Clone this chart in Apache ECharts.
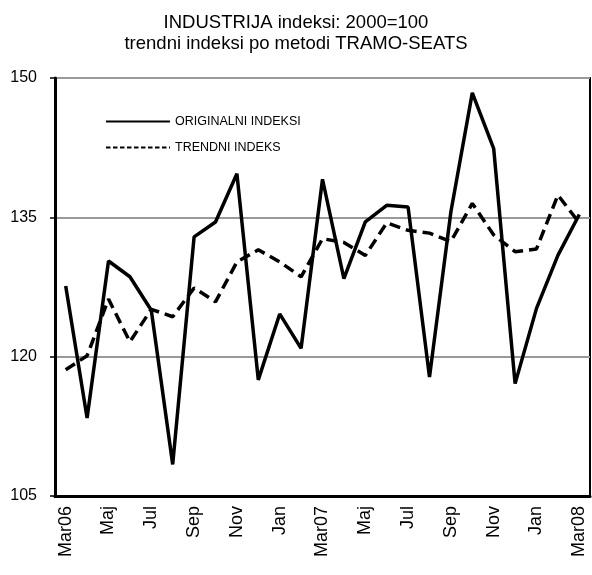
<!DOCTYPE html>
<html>
<head>
<meta charset="utf-8">
<script src="https://cdn.jsdelivr.net/npm/echarts@6/dist/echarts.min.js"></script>
<style>
  html, body { margin: 0; padding: 0; background: #fff; }
  #chart { width: 592px; height: 575px; }
</style>
</head>
<body>
<div id="chart"></div>
<script>
// monthly categories Mar06 .. Mar08
const months = ['Mar06', 'Apr', 'Maj', 'Jun', 'Jul', 'Avg', 'Sep', 'Okt', 'Nov', 'Dec', 'Jan', 'Feb',
  'Mar07', 'Apr', 'Maj', 'Jun', 'Jul', 'Avg', 'Sep', 'Okt', 'Nov', 'Dec', 'Jan', 'Feb', 'Mar08']

const originalni = [127.6, 113.4, 130.3, 128.6, 125.0, 108.4, 132.9, 134.5, 139.7, 117.5, 124.6, 120.9,
  139.1, 128.4, 134.5, 136.3, 136.1, 117.8, 135.6, 148.4, 142.4, 117.1, 125.2, 130.9, 135.3]

const trendni = [118.6, 120.1, 126.2, 121.6, 125.1, 124.3, 127.4, 125.9, 130.2, 131.5, 130.2, 128.6,
  132.7, 132.3, 130.9, 134.4, 133.6, 133.3, 132.4, 136.5, 133.1, 131.3, 131.6, 137.4, 134.4]

const yTicks = { min: 105, max: 150, step: 15 }

const chart = echarts.init(document.getElementById('chart'))

const fontFamily = '"Liberation Sans", Arial, sans-serif'

const option = {
  animation: false,
  title: {
    text: 'INDUSTRIJA indeksi: 2000=100\ntrendni indeksi po metodi TRAMO-SEATS',
    left: 'center',
    top: 7,
    textStyle: {
      fontFamily,
      fontWeight: 'normal',
      fontSize: 18.5,
      lineHeight: 21,
      color: '#000'
    }
  },
  legend: {
    orient: 'vertical',
    left: 100,
    top: 110,
    itemWidth: 64,
    itemHeight: 14,
    itemGap: 13,
    data: [
      {
        name: 'ORIGINALNI INDEKSI',
        itemStyle: { opacity: 0 },
        lineStyle: { color: '#000', width: 2, type: 'solid' }
      },
      {
        name: 'TRENDNI INDEKS',
        itemStyle: { opacity: 0 },
        lineStyle: { color: '#000', width: 2, type: [4.5, 2.5] }
      }
    ],
    textStyle: { fontFamily, fontSize: 12.5, color: '#000' }
  },
  grid: {
    left: 55,
    right: 2,
    top: 78,
    bottom: 79,
    show: true,
    borderColor: '#000',
    borderWidth: 2
  },
  xAxis: {
    type: 'category',
    data: months,
    boundaryGap: true,
    axisLine: { lineStyle: { color: '#000', width: 3 } },
    axisTick: { interval: 0, length: 5, lineStyle: { color: '#000', width: 1.5 } },
    axisLabel: {
      interval: 1,
      rotate: 90,
      margin: 10,
      fontFamily,
      fontSize: 18,
      color: '#000'
    },
    splitLine: { show: false }
  },
  yAxis: {
    type: 'value',
    min: yTicks.min,
    max: yTicks.max,
    interval: yTicks.step,
    axisLine: { show: true, lineStyle: { color: '#000', width: 3 } },
    axisTick: { show: true, length: 5, lineStyle: { color: '#000', width: 1.5 } },
    axisLabel: { margin: 18, fontFamily, fontSize: 16, color: '#000' },
    splitLine: { lineStyle: { color: '#999', width: 2 } }
  },
  series: [
    {
      name: 'ORIGINALNI INDEKSI',
      type: 'line',
      data: originalni,
      symbol: 'none',
      lineStyle: { color: '#000', width: 3.5 },
      itemStyle: { color: '#000' }
    },
    {
      name: 'TRENDNI INDEKS',
      type: 'line',
      data: trendni,
      symbol: 'none',
      lineStyle: { color: '#000', width: 3.5, type: [11, 6] },
      itemStyle: { color: '#000' }
    }
  ]
}

chart.setOption(option)
</script>
</body>
</html>
